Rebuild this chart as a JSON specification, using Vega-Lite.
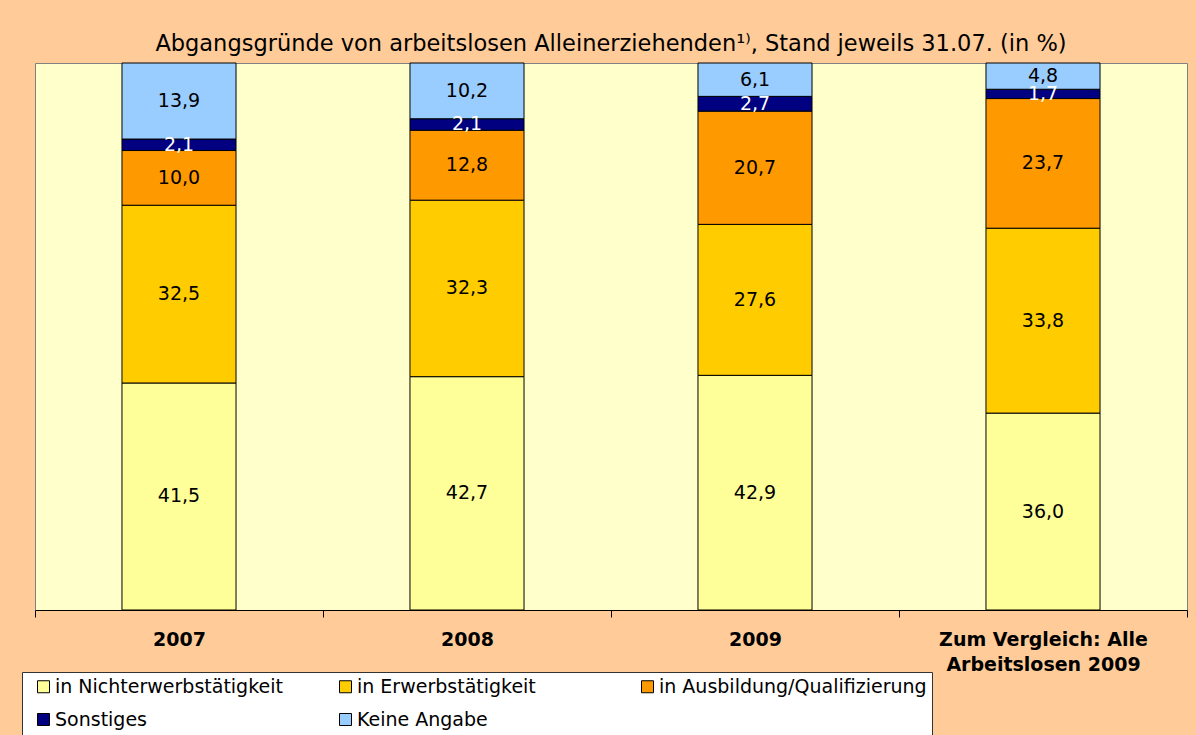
{
  "$schema": "https://vega.github.io/schema/vega-lite/v6.json",
  "width": 1152,
  "height": 547,
  "autosize": {"type": "none"},
  "padding": {"left": 35, "top": 63, "right": 9, "bottom": 125},
  "background": "#FFCC99",
  "title": {
    "text": "Abgangsgründe von arbeitslosen Alleinerziehenden¹⁾, Stand jeweils 31.07.  (in %)",
    "fontSize": 22.5,
    "fontWeight": "normal",
    "font": "DejaVu Sans",
    "color": "black",
    "offset": 7,
    "anchor": "middle"
  },
  "data": {
    "values": [
      {"cat": "2007", "k": "in Nichterwerbstätigkeit", "i": 1, "v": 41.5},
      {"cat": "2007", "k": "in Erwerbstätigkeit", "i": 2, "v": 32.5},
      {"cat": "2007", "k": "in Ausbildung/Qualifizierung", "i": 3, "v": 10.0},
      {"cat": "2007", "k": "Sonstiges", "i": 4, "v": 2.1},
      {"cat": "2007", "k": "Keine Angabe", "i": 5, "v": 13.9},
      {"cat": "2008", "k": "in Nichterwerbstätigkeit", "i": 1, "v": 42.7},
      {"cat": "2008", "k": "in Erwerbstätigkeit", "i": 2, "v": 32.3},
      {"cat": "2008", "k": "in Ausbildung/Qualifizierung", "i": 3, "v": 12.8},
      {"cat": "2008", "k": "Sonstiges", "i": 4, "v": 2.1},
      {"cat": "2008", "k": "Keine Angabe", "i": 5, "v": 10.2},
      {"cat": "2009", "k": "in Nichterwerbstätigkeit", "i": 1, "v": 42.9},
      {"cat": "2009", "k": "in Erwerbstätigkeit", "i": 2, "v": 27.6},
      {"cat": "2009", "k": "in Ausbildung/Qualifizierung", "i": 3, "v": 20.7},
      {"cat": "2009", "k": "Sonstiges", "i": 4, "v": 2.7},
      {"cat": "2009", "k": "Keine Angabe", "i": 5, "v": 6.1},
      {"cat": "Zum Vergleich: Alle Arbeitslosen 2009", "k": "in Nichterwerbstätigkeit", "i": 1, "v": 36.0},
      {"cat": "Zum Vergleich: Alle Arbeitslosen 2009", "k": "in Erwerbstätigkeit", "i": 2, "v": 33.8},
      {"cat": "Zum Vergleich: Alle Arbeitslosen 2009", "k": "in Ausbildung/Qualifizierung", "i": 3, "v": 23.7},
      {"cat": "Zum Vergleich: Alle Arbeitslosen 2009", "k": "Sonstiges", "i": 4, "v": 1.7},
      {"cat": "Zum Vergleich: Alle Arbeitslosen 2009", "k": "Keine Angabe", "i": 5, "v": 4.8}
    ]
  },
  "transform": [
    {"stack": "v", "groupby": ["cat"], "sort": [{"field": "i", "order": "ascending"}], "offset": "normalize", "as": ["v0", "v1"]},
    {"calculate": "(datum.v0 + datum.v1) / 2", "as": "mid"},
    {"calculate": "replace(format(datum.v, '.1f'), '.', ',')", "as": "lab"}
  ],
  "encoding": {
    "x": {
      "field": "cat",
      "type": "nominal",
      "sort": null,
      "scale": {"paddingInner": 0, "paddingOuter": 0},
      "axis": {
        "title": null,
        "labelAngle": 0,
        "labelFont": "DejaVu Sans",
        "labelFontSize": 19,
        "labelFontWeight": "bold",
        "labelColor": "black",
        "domainColor": "black",
        "tickColor": "black",
        "tickSize": 7,
        "tickBand": "extent",
        "labelPadding": 13,
        "labelLineHeight": 25,
        "labelLimit": 400,
        "labelExpr": "datum.label == 'Zum Vergleich: Alle Arbeitslosen 2009' ? ['Zum Vergleich: Alle', 'Arbeitslosen 2009'] : datum.label"
      }
    }
  },
  "layer": [
    {
      "mark": {"type": "bar", "stroke": "black", "strokeWidth": 1, "width": {"band": 0.396}},
      "encoding": {
        "y": {"field": "v0", "type": "quantitative", "scale": {"domain": [0, 1], "nice": false}, "axis": null},
        "y2": {"field": "v1"},
        "color": {
          "field": "k",
          "type": "nominal",
          "scale": {
            "domain": ["in Nichterwerbstätigkeit", "in Erwerbstätigkeit", "in Ausbildung/Qualifizierung", "Sonstiges", "Keine Angabe"],
            "range": ["#FFFF99", "#FFCC00", "#FF9900", "#000080", "#99CCFF"]
          },
          "legend": {
            "orient": "none",
            "legendX": -13,
            "legendY": 609,
            "direction": "horizontal",
            "columns": 3,
            "title": null,
            "fillColor": "white",
            "strokeColor": "#333333",
            "padding": 5,
            "symbolOffset": 7,
            "symbolType": "square",
            "symbolSize": 144,
            "symbolStrokeColor": "black",
            "symbolStrokeWidth": 1,
            "labelFont": "DejaVu Sans",
            "labelFontSize": 19,
            "labelColor": "black",
            "labelOffset": 2,
            "rowPadding": 13,
            "columnPadding": 6,
            "gridAlign": "all",
            "labelLimit": 400
          }
        }
      }
    },
    {
      "mark": {"type": "text", "fontSize": 19, "font": "DejaVu Sans", "baseline": "middle", "align": "center"},
      "encoding": {
        "y": {"field": "mid", "type": "quantitative"},
        "text": {"field": "lab"},
        "color": {"condition": {"test": "datum.k === 'Sonstiges'", "value": "white"}, "value": "black"}
      }
    }
  ],
  "config": {
    "font": "DejaVu Sans",
    "view": {"fill": "#FFFFCC", "stroke": "#808080"}
  }
}
